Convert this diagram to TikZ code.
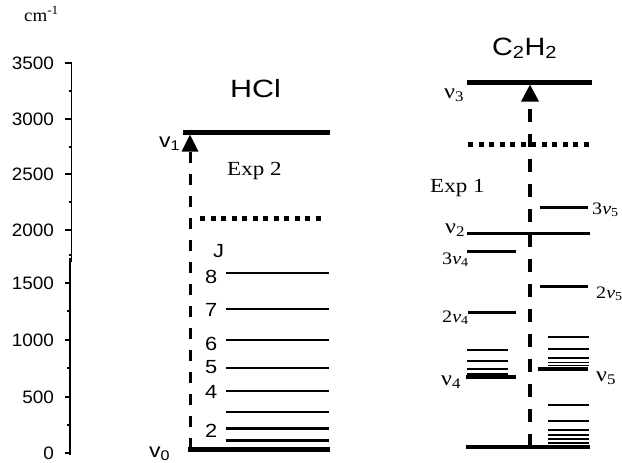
\documentclass[tikz,border=0pt]{standalone}
\usepackage{fontspec}
\usepackage{graphicx}
\usetikzlibrary{arrows.meta}
\newfontfamily\sansf{Liberation Sans}
\newfontfamily\seriff{Liberation Serif}
\newcommand\fsz[1]{\fontsize{#1}{#1}\selectfont}
% horizontally widened text
\newcommand\wide[2][1.15]{\scalebox{#1}[1]{#2}}

\begin{document}
\begin{tikzpicture}[x=1pt,y=-1pt,
  axlab/.style={font=\sansf\fsz{18}, anchor=east, inner sep=0pt},
  txt/.style={inner sep=0pt, anchor=base west},
  num/.style={txt, font=\sansf\fsz{19}},
  nulab/.style={txt, font=\seriff\fsz{21}},
  ovlab/.style={txt, font=\seriff\fsz{17.5}},
  explab/.style={txt, font=\seriff\fsz{20}},
  dashline/.style={line width=3pt, dash pattern=on 11pt off 11pt},
  dashlinetwo/.style={line width=3.5pt, dash pattern=on 13pt off 12pt},
  dotlvl/.style={line width=5pt, dash pattern=on 5pt off 5.5pt}
]
\useasboundingbox (0,0) rectangle (622,463);

% ---------- energy axis ----------
\node[txt, font=\seriff\fsz{18}] (unit) at (24,21) {\wide[1.05]{cm\textsuperscript{-1}}};
\draw[line width=1.3pt] (71.5,63) -- (71.5,262);
\draw[line width=1.3pt] (70,258) -- (70,455);
\foreach \y/\l in {63/3500,119/3000,174/2500,230/2000}{
  \draw[line width=1.2pt] (65,\y) -- (71.5,\y);
  \node[axlab] (t\l) at (54,\y) {\wide[1.05]{\l}};
}
\foreach \y in {91,147,202,255}
  \draw[line width=1.2pt] (68.5,\y) -- (71.5,\y);
\foreach \y/\l in {283/1500,340/1000,397/500,453/0}{
  \draw[line width=1.2pt] (65,\y) -- (70,\y);
  \node[axlab] (t\l) at (54,\y) {\wide[1.05]{\l}};
}
\foreach \y in {311,368,425}
  \draw[line width=1.2pt] (67,\y) -- (70,\y);

% ---------- HCl ----------
\node[txt, font=\sansf\fsz{25}] (hcl) at (230,97) {\wide[1.22]{HCl}};
\draw[line width=5pt] (183,132) -- (330,132);
\draw[dotlvl] (200,218) -- (325,218);
\node[explab] (exptwo) at (227,175) {\wide{Exp 2}};
\foreach \y/\w in {273/2.5,309/2.5,340/2.5,368/2.5,391/1.5,412/2,428/3,440/3}
  \draw[line width=\w pt] (226,\y) -- (329,\y);
\draw[line width=5pt] (188,449) -- (330,449);
\node[num] (jlab) at (213,257) {\wide{J}};
\foreach \n/\b in {8/283,7/316,6/350,5/373,4/398,2/437}
  \node[num] (j\n) at (205,\b) {\wide{\n}};
\node[txt, font=\sansf\fsz{20}] (vone) at (159,147) {\wide{v\textsubscript{1}}};
\node[txt, font=\sansf\fsz{20}] (vzero) at (149,457) {\wide{v\textsubscript{0}}};
\coordinate (hclbot) at (190,449);
\coordinate (hcltop) at (190,134.5);
\draw[dashline, -{Triangle[width=16pt,length=17pt]}] (hclbot) -- (hcltop);

% ---------- C2H2 ----------
\node[txt, font=\sansf\fsz{25}] (cch) at (492,55) {\wide[1.15]{C\textsubscript{2}H\textsubscript{2}}};
\draw[line width=5pt] (467,82) -- (592,82);
\draw[dotlvl] (468,144) -- (590,144);
\node[explab] (expone) at (430,192) {\wide{Exp 1}};
% stretch, bend and combination levels
\draw[line width=3pt] (540,207) -- (588,207);
\draw[line width=3pt] (467,233.5) -- (590,233.5);
\draw[line width=3pt] (467,251) -- (516,251);
\draw[line width=3pt] (540,286) -- (588,286);
\draw[line width=3pt] (468,312) -- (516,312);
\foreach \y/\w in {350/2,361/2,369/2,374.5/3}
  \draw[line width=\w pt] (467,\y) -- (508,\y);
\draw[line width=3.5pt] (466,377) -- (516,377);
\draw[line width=3.5pt] (538,369) -- (588,369);
\foreach \y/\w in {337/2.5,349/1.5,358/1.5,362.5/1.5,365.5/1.5,405/1.5,421/2,430/2.5,435/2.5,439/2.5,443/2.5}
  \draw[line width=\w pt] (548,\y) -- (589,\y);
\draw[line width=3.5pt] (466,447) -- (590,447);
\node[nulab] (nuthree) at (444,98) {\wide{ν\textsubscript{3}}};
\node[nulab] (nutwo) at (445,233) {\wide{ν\textsubscript{2}}};
\node[nulab] (nufour) at (441,385) {\wide{ν\textsubscript{4}}};
\node[nulab] (nufive) at (596,381) {\wide{ν\textsubscript{5}}};
\node[ovlab] (threenufive) at (592,214) {\wide{3\textit{ν}\textsubscript{5}}};
\node[ovlab] (twonufive) at (596,298) {\wide{2\textit{ν}\textsubscript{5}}};
\node[ovlab] (threenufour) at (442,264) {\wide{3\textit{ν}\textsubscript{4}}};
\node[ovlab] (twonufour) at (442,322) {\wide{2\textit{ν}\textsubscript{4}}};
\coordinate (cchbot) at (530,447);
\coordinate (cchtop) at (530,84.5);
\draw[dashlinetwo, -{Triangle[width=17pt,length=17pt]}] (cchbot) -- (cchtop);
\end{tikzpicture}
\end{document}
